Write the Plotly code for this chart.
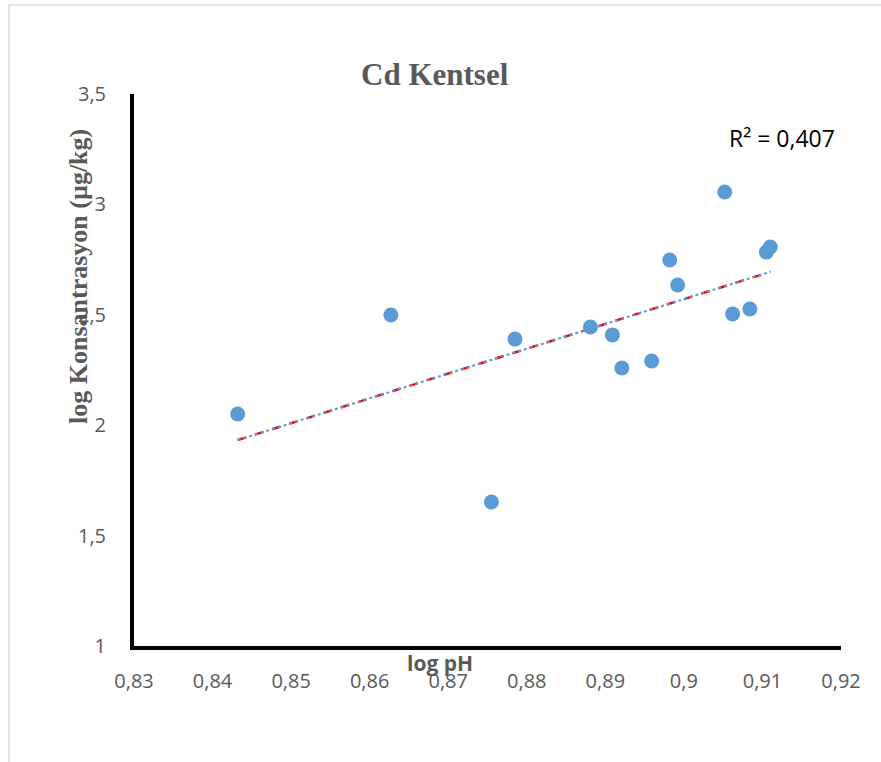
import numpy as np
import plotly.graph_objects as go

# log pH vs log Cd concentration, urban sites
log_ph = [0.8432, 0.8627, 0.8755, 0.8785, 0.8881, 0.8909, 0.8921, 0.8959,
          0.8982, 0.8992, 0.9052, 0.9062, 0.9084, 0.9105, 0.9110]
log_conc = [2.051, 2.499, 1.652, 2.390, 2.445, 2.409, 2.259, 2.291,
            2.748, 2.635, 3.056, 2.504, 2.526, 2.784, 2.807]

x_ticks = [0.83, 0.84, 0.85, 0.86, 0.87, 0.88, 0.89, 0.90, 0.91, 0.92]
x_labels = ["0,83", "0,84", "0,85", "0,86", "0,87", "0,88", "0,89", "0,9", "0,91", "0,92"]
y_ticks = [1, 1.5, 2, 2.5, 3, 3.5]
y_labels = ["1", "1,5", "2", "2,5", "3", "3,5"]

# least-squares trend line over the data range
slope, intercept = np.polyfit(log_ph, log_conc, 1)
x_fit = np.array([min(log_ph), max(log_ph)])
y_fit = slope * x_fit + intercept
r2 = np.corrcoef(log_ph, log_conc)[0, 1] ** 2
r2_text = "R² = " + f"{r2:.3f}".replace(".", ",")

W, H = 881, 762
L, R, T, B = 134, 40, 94, 116
pw, ph = W - L - R, H - T - B


def px(xp):
    return (xp - L) / pw


def py(yp):
    return (H - B - yp) / ph


GRAY = "#595959"
BLUE = "#5B9BD5"

fig = go.Figure()
fig.add_trace(go.Scatter(x=x_fit, y=y_fit, mode="lines",
                         line=dict(color="#FF0000", width=2.5, dash="dash"),
                         hoverinfo="skip", showlegend=False))
fig.add_trace(go.Scatter(x=x_fit, y=y_fit, mode="lines",
                         line=dict(color=BLUE, width=2, dash="dot"),
                         hoverinfo="skip", showlegend=False))
fig.add_trace(go.Scatter(x=log_ph, y=log_conc, mode="markers",
                         marker=dict(size=15, color=BLUE, line=dict(width=0)),
                         showlegend=False))

fig.update_xaxes(range=[0.83, 0.92], tickvals=x_ticks, ticktext=x_labels,
                 showline=True, linecolor="black", linewidth=4,
                 showgrid=False, zeroline=False, ticks="",
                 ticklabelstandoff=14,
                 tickfont=dict(family="Open Sans", size=20, color=GRAY))
fig.update_yaxes(range=[1, 3.5], tickvals=y_ticks, ticktext=y_labels,
                 showline=True, linecolor="black", linewidth=4,
                 showgrid=False, zeroline=False, ticks="",
                 ticklabelstandoff=20,
                 tickfont=dict(family="Open Sans", size=20, color=GRAY))

fig.update_layout(
    width=W, height=H,
    margin=dict(l=L, r=R, t=T, b=B),
    paper_bgcolor="white", plot_bgcolor="white",
    shapes=[dict(type="rect", xref="paper", yref="paper",
                 x0=px(9), x1=px(W + 20), y0=py(H + 20), y1=py(5),
                 line=dict(color="#d9d9d9", width=1.5), layer="below")],
    annotations=[
        dict(text="<b>Cd Kentsel</b>", x=px(435), y=py(75), xref="paper", yref="paper",
             showarrow=False, xanchor="center", yanchor="middle",
             font=dict(family="Liberation Serif", size=31, color=GRAY)),
        dict(text="<b>log Konsantrasyon (µg/kg)</b>", x=px(78), y=py(277),
             xref="paper", yref="paper", textangle=-90,
             showarrow=False, xanchor="center", yanchor="middle",
             font=dict(family="Liberation Serif", size=26, color=GRAY)),
        dict(text="<b>log pH</b>", x=px(440), y=py(663), xref="paper", yref="paper",
             showarrow=False, xanchor="center", yanchor="middle",
             font=dict(family="Open Sans", size=21, color=GRAY)),
        dict(text=r2_text, x=px(782), y=py(138), xref="paper", yref="paper",
             showarrow=False, xanchor="center", yanchor="middle",
             font=dict(family="Open Sans", size=23, color="black")),
    ],
)

fig.write_html("out.html")
